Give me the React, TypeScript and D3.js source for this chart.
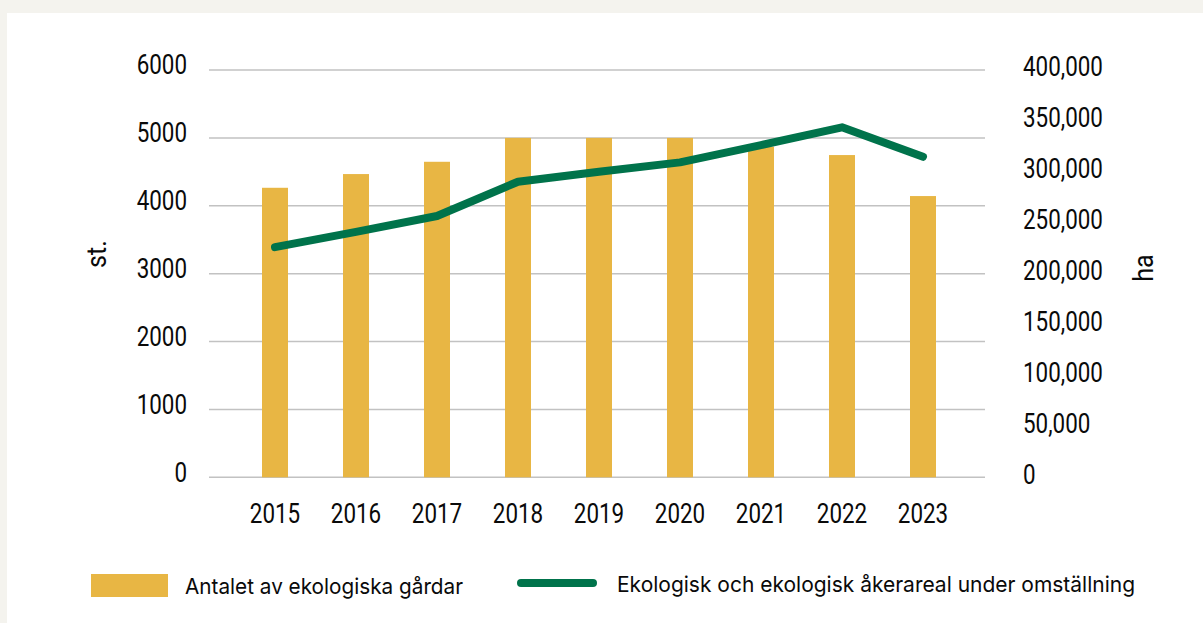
import React from 'react';
import * as d3 from 'd3';

const years = ['2015', '2016', '2017', '2018', '2019', '2020', '2021', '2022', '2023'];
const farms = [4265, 4467, 4648, 5000, 5000, 5000, 4870, 4747, 4143];
const area = [226000, 241000, 256600, 290300, 300100, 309300, 326300, 343700, 314800];
const leftTicks = [0, 1000, 2000, 3000, 4000, 5000, 6000];
const rightTicks = [0, 50000, 100000, 150000, 200000, 250000, 300000, 350000, 400000];
const leftTitle = 'st.';
const rightTitle = 'ha';
const barLegend = 'Antalet av ekologiska gårdar';
const lineLegend = 'Ekologisk och ekologisk åkerareal under omställning';

const W = 1203;
const H = 623;
const BAR = '#e8b644';
const LINE = '#00734b';
const GRID = '#c2c2c2';
const TEXT = '#0a0a0a';
const TICK_FONT = 'Roboto, "Liberation Sans", sans-serif';
const LEG_FONT = 'Inter, "Noto Sans", sans-serif';
const SX = 0.8;

export default function App() {
  const x = d3.scaleBand<string>().domain(years).range([234.5, 963.5]).paddingInner(0.679).paddingOuter(0.3395);
  const yL = d3.scaleLinear().domain([0, 6000]).range([477.3, 70]);
  const yR = d3.scaleLinear().domain([0, 400000]).range([477.3, 70]);
  const cx = (y: string) => (x(y) as number) + x.bandwidth() / 2;
  const line = d3
    .line<number>()
    .x((_, i) => cx(years[i]))
    .y((d) => yR(d));
  const fmt = d3.format(',');

  return (
    <svg width={W} height={H} style={{ position: 'absolute', left: 0, top: 0 }}>
      <rect x={0} y={0} width={W} height={H} fill="#f4f3ee" />
      <rect x={7} y={13} width={W - 7} height={H - 13} fill="#ffffff" />

      {leftTicks.map((t) => (
        <line key={'g' + t} x1={209} x2={985} y1={yL(t)} y2={yL(t)} stroke={GRID} strokeWidth={1.5} />
      ))}

      {years.map((y, i) => (
        <rect key={'b' + y} x={x(y)} y={yL(farms[i])} width={x.bandwidth()} height={yL(0) - yL(farms[i])} fill={BAR} />
      ))}

      <path d={line(area) || ''} fill="none" stroke={LINE} strokeWidth={8} strokeLinecap="round" strokeLinejoin="round" />

      {leftTicks.map((t) => (
        <text
          key={'lt' + t}
          transform={`translate(187,${yL(t) - 5.5}) scale(${SX},1)`}
          textAnchor="end"
          dominantBaseline="central"
          fontFamily={TICK_FONT}
          fontSize={28}
          fill={TEXT}
        >
          {String(t)}
        </text>
      ))}

      {rightTicks.map((t) => (
        <text
          key={'rt' + t}
          transform={`translate(1023,${yR(t) - 3.5}) scale(${SX},1)`}
          textAnchor="start"
          dominantBaseline="central"
          fontFamily={TICK_FONT}
          fontSize={28}
          fill={TEXT}
        >
          {fmt(t)}
        </text>
      ))}

      {years.map((y) => (
        <text
          key={'xt' + y}
          transform={`translate(${cx(y)},513) scale(${SX},1)`}
          textAnchor="middle"
          dominantBaseline="central"
          fontFamily={TICK_FONT}
          fontSize={28}
          fill={TEXT}
        >
          {y}
        </text>
      ))}

      <text
        transform={`translate(97,254) rotate(-90) scale(0.9,1)`}
        textAnchor="middle"
        dominantBaseline="central"
        fontFamily={TICK_FONT}
        fontSize={28}
        fill={TEXT}
      >
        {leftTitle}
      </text>
      <text
        transform={`translate(1144,268) rotate(-90) scale(0.9,1)`}
        textAnchor="middle"
        dominantBaseline="central"
        fontFamily={TICK_FONT}
        fontSize={28}
        fill={TEXT}
      >
        {rightTitle}
      </text>

      <rect x={91} y={574} width={77} height={23} fill={BAR} />
      <text
        x={185}
        y={585.5}
        dominantBaseline="central"
        fontFamily={LEG_FONT}
        fontSize={22}
        fill={TEXT}
        textLength={278}
        lengthAdjust="spacingAndGlyphs"
      >
        {barLegend}
      </text>
      <line x1={521} x2={593} y1={583} y2={583} stroke={LINE} strokeWidth={8} strokeLinecap="round" />
      <text
        x={617}
        y={583.5}
        dominantBaseline="central"
        fontFamily={LEG_FONT}
        fontSize={22}
        fill={TEXT}
        textLength={518}
        lengthAdjust="spacingAndGlyphs"
      >
        {lineLegend}
      </text>
    </svg>
  );
}
